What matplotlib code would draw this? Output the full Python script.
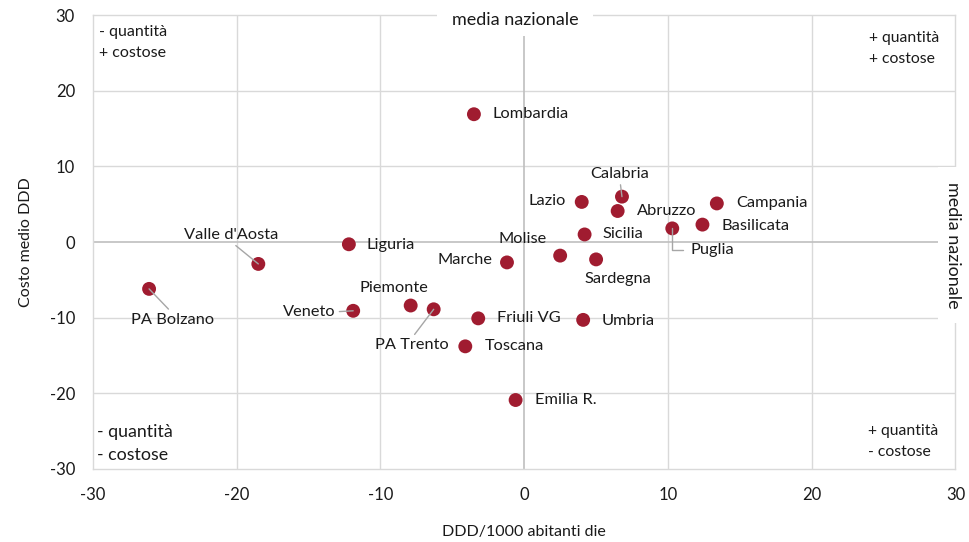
import matplotlib.pyplot as plt
from matplotlib.patches import Rectangle

plt.rcParams['font.family'] = ['Lato', 'DejaVu Sans']
plt.rcParams['axes.unicode_minus'] = False

regioni = ['Lombardia', "Valle d'Aosta", 'Liguria', 'Marche', 'Molise', 'Lazio',
           'Calabria', 'Abruzzo', 'Campania', 'Basilicata', 'Puglia', 'Sicilia',
           'Sardegna', 'PA Bolzano', 'Veneto', 'Piemonte', 'PA Trento', 'Friuli VG',
           'Toscana', 'Emilia R.', 'Umbria']
ddd = [-3.5, -18.5, -12.2, -1.2, 2.5, 4.0, 6.8, 6.5, 13.4, 12.4, 10.3, 4.2,
       5.0, -26.1, -11.9, -7.9, -6.3, -3.2, -4.1, -0.6, 4.1]
costo = [16.9, -2.9, -0.3, -2.7, -1.8, 5.3, 6.0, 4.1, 5.1, 2.3, 1.8, 1.0,
         -2.3, -6.2, -9.1, -8.4, -8.9, -10.1, -13.8, -20.9, -10.3]
ticks = [-30, -20, -10, 0, 10, 20, 30]

# label placement: offset in pixels (dx, dy), alignment, leader style
label_pos = {
    'Lombardia': (19, 0, 'left', None),
    "Valle d'Aosta": (-27, 29, 'center', (0.5, 0)),
    'Liguria': (18, -1, 'left', None),
    'Marche': (-14, 2, 'right', None),
    'Molise': (-38, 17, 'center', None),
    'Lazio': (-16, 1, 'right', None),
    'Calabria': (-2, 23, 'center', (0.5, 0)),
    'Abruzzo': (19, 0, 'left', None),
    'Campania': (19, 0, 'left', None),
    'Basilicata': (19, -1, 'left', None),
    'Puglia': (18, -22, 'left', 'elbow'),
    'Sicilia': (18, 0, 'left', None),
    'Sardegna': (22, -20, 'center', None),
    'PA Bolzano': (23, -31, 'center', (0.5, 1)),
    'Veneto': (-18, -1, 'right', (1, 0.5)),
    'Piemonte': (-17, 18, 'center', None),
    'PA Trento': (-22, -36, 'center', (0.5, 1)),
    'Friuli VG': (19, 0, 'left', None),
    'Toscana': (19, 0, 'left', None),
    'Emilia R.': (19, 0, 'left', None),
    'Umbria': (18, -1, 'left', None),
}

grid_c = '#d9d9d9'
zero_c = '#bfbfbf'
dot_c = '#a01c30'
txt_c = '#1a1a1a'

fig = plt.figure(figsize=(9.69, 5.42), dpi=100)
ax = fig.add_axes([0.096, 0.135, 0.890, 0.837])
ax.set_xlim(-30, 30)
ax.set_ylim(-30, 30)

for t in ticks:
    if t in (-30, 0, 30):
        continue
    ax.axvline(t, color=grid_c, lw=1, zorder=0)
    ax.axhline(t, color=grid_c, lw=1, zorder=0)
ax.axvline(0, ymin=0, ymax=0.953, color=zero_c, lw=1.2, zorder=0.5)
ax.axhline(0, xmin=0, xmax=0.98, color=zero_c, lw=1.2, zorder=0.5)

for s in ax.spines.values():
    s.set_color(grid_c)
    s.set_linewidth(1)

ax.scatter(ddd, costo, s=100, color=dot_c, edgecolors='none', zorder=2)

for name, x, y in zip(regioni, ddd, costo):
    dx, dy, ha, lead = label_pos[name]
    arrow = None
    if lead == 'elbow':
        arrow = dict(arrowstyle='-', color='#a6a6a6', lw=1, relpos=(0, 0.5),
                     shrinkA=3, shrinkB=0,
                     connectionstyle='angle,angleA=0,angleB=90,rad=0')
    elif lead is not None:
        arrow = dict(arrowstyle='-', color='#a6a6a6', lw=1, relpos=lead,
                     shrinkA=1, shrinkB=0)
    ax.annotate(name, (x, y), xytext=(dx, dy), textcoords='offset pixels',
                ha=ha, va='center', fontsize=11.8, color=txt_c,
                arrowprops=arrow, zorder=3)

ax.set_xticks(ticks)
ax.set_yticks(ticks)
ax.tick_params(length=0, labelsize=12, labelcolor=txt_c, pad=13)
ax.set_xlabel('DDD/1000 abitanti die', fontsize=11.5, color=txt_c, labelpad=16)
ax.set_ylabel('Costo medio DDD', fontsize=11.5, color=txt_c, labelpad=12)

# quadrant notes (one text per line)
notes = [
    (0.007, 0.963, '- quantità', 11.5), (0.007, 0.917, '+ costose', 11.5),
    (0.900, 0.950, '+ quantità', 11.3), (0.900, 0.904, '+ costose', 11.3),
    (0.005, 0.081, '- quantità', 12.8), (0.005, 0.031, '- costose', 12.8),
    (0.899, 0.084, '+ quantità', 11.3), (0.899, 0.038, '- costose', 11.3),
]
for nx, ny, s, fs in notes:
    ax.text(nx, ny, s, transform=ax.transAxes, ha='left', va='center',
            fontsize=fs, color=txt_c)

# white boxes breaking the frame behind the "media nazionale" labels
for x0, y0, w, h in [(0.451, 0.9336, 0.161, 0.0664), (0.968, 0.404, 0.032, 0.288)]:
    ax.add_patch(Rectangle((x0, y0), w, h, transform=fig.transFigure,
                           fc='white', ec='none', clip_on=False, zorder=4))
ax.text(-0.6, 29.3, 'media nazionale', ha='center', va='center', fontsize=13,
        color=txt_c, clip_on=False, zorder=5)
ax.text(29.85, -0.5, 'media nazionale', ha='center', va='center', fontsize=13,
        rotation=270, color=txt_c, clip_on=False, zorder=5)

fig.savefig('out.png', dpi=100)
